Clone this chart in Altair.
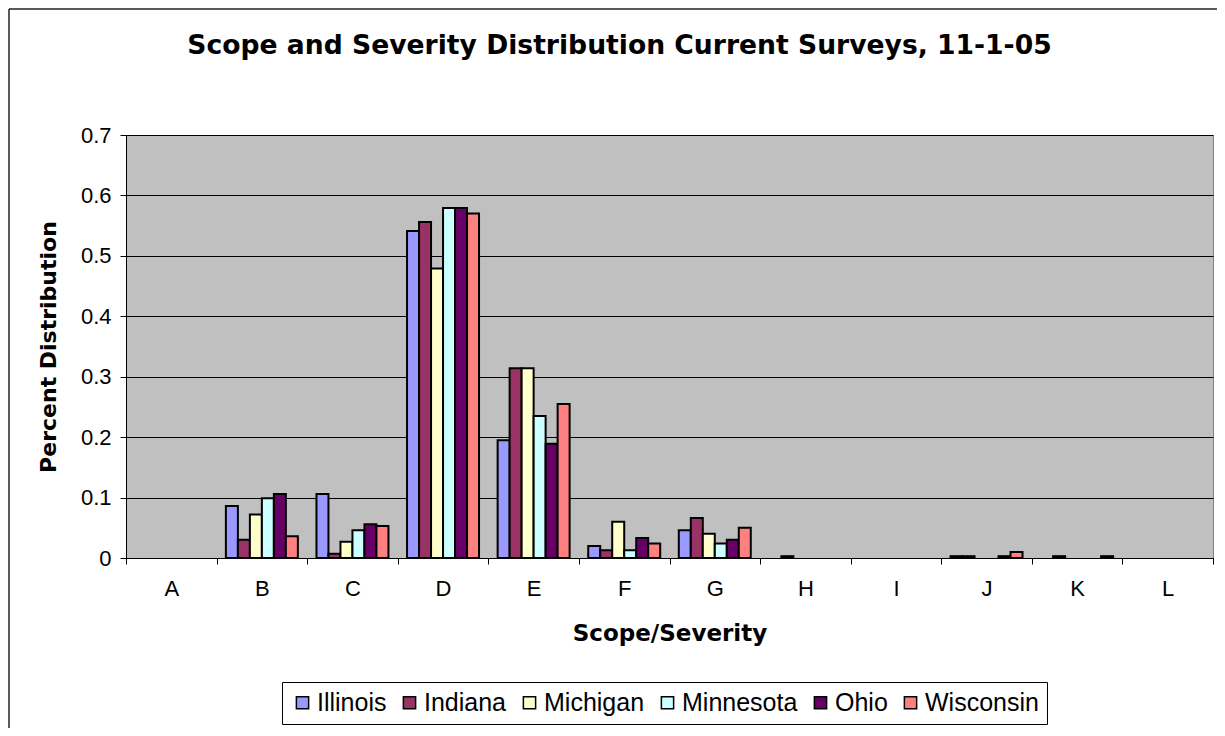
import altair as alt
import pandas as pd

categories = list("ABCDEFGHIJKL")
states = ["Illinois", "Indiana", "Michigan", "Minnesota", "Ohio", "Wisconsin"]
colors = ["#9999FF", "#993366", "#FFFFCC", "#CCFFFF", "#660066", "#FF8080"]

illinois = [0, 0.086, 0.106, 0.541, 0.195, 0.020, 0.046, 0, 0, 0.003, 0, 0]
indiana = [0, 0.030, 0.007, 0.556, 0.314, 0.013, 0.066, 0.003, 0, 0.003, 0.003, 0]
michigan = [0, 0.072, 0.027, 0.479, 0.314, 0.060, 0.040, 0, 0, 0, 0, 0]
minnesota = [0, 0.099, 0.046, 0.579, 0.235, 0.013, 0.024, 0, 0, 0, 0, 0]
ohio = [0, 0.106, 0.056, 0.579, 0.189, 0.033, 0.030, 0, 0, 0.003, 0, 0]
wisconsin = [0, 0.036, 0.053, 0.570, 0.255, 0.024, 0.050, 0, 0, 0.010, 0.003, 0]

y_ticks = [0, 0.1, 0.2, 0.3, 0.4, 0.5, 0.6, 0.7]

rows = []
for s, vals in zip(states, [illinois, indiana, michigan, minnesota, ohio, wisconsin]):
    for c, v in zip(categories, vals):
        rows.append({"cat": c, "state": s, "value": v})
df = pd.DataFrame(rows)

W, H = 1087, 423
FONT = "Liberation Sans"
BOLD_FONT = "DejaVu Sans"

bars = alt.Chart(df).transform_filter("datum.value > 0").mark_bar(
    stroke="black", strokeWidth=2
).encode(
    x=alt.X(
        "cat:N",
        sort=categories,
        scale=alt.Scale(domain=categories, paddingInner=0, paddingOuter=0),
        axis=alt.Axis(
            title="Scope/Severity",
            labelAngle=0,
            tickBand="extent",
            tickSize=6,
            labelPadding=14,
            labelFontSize=22,
            titleFont=BOLD_FONT,
            titleFontSize=23,
            titleFontWeight="bold",
            titleY=82,
            titleBaseline="alphabetic",
            grid=False,
        ),
    ),
    xOffset=alt.XOffset(
        "state:N",
        sort=states,
        scale=alt.Scale(domain=states, paddingInner=0, paddingOuter=0.775),
    ),
    y=alt.Y(
        "value:Q",
        scale=alt.Scale(domain=[0, 0.7], nice=False, zero=True),
        axis=alt.Axis(
            title="Percent Distribution",
            values=y_ticks,
            labelExpr="datum.value == 0 ? '0' : format(datum.value, '.1f')",
            tickSize=6,
            labelPadding=9,
            labelFontSize=22,
            titleFont=BOLD_FONT,
            titleFontSize=22,
            titleFontWeight="bold",
            titleX=-78,
            titleY=H / 2,
            titleAngle=270,
            titleAlign="center",
            titleBaseline="middle",
            grid=True,
            gridColor="black",
            gridWidth=1,
        ),
    ),
    color=alt.Color(
        "state:N",
        sort=states,
        scale=alt.Scale(domain=states, range=colors),
        legend=alt.Legend(
            title=None,
            orient="none",
            legendX=156,
            legendY=547,
            direction="horizontal",
            labelFont=FONT,
            labelFontSize=25,
            labelColor="black",
            symbolType="square",
            symbolSize=150,
            symbolStrokeColor="black",
            symbolStrokeWidth=1.5,
            symbolOpacity=1,
            labelOffset=2,
            columnPadding=10,
            padding=8,
            strokeColor="black",
            fillColor="white",
        ),
    ),
)

frame_df = pd.DataFrame({"k": [0]})
frame_top = alt.Chart(frame_df).mark_rule(color="#222222", strokeWidth=1.5).encode(
    x=alt.value(-117), x2=alt.value(1400), y=alt.value(-126)
)
frame_left = alt.Chart(frame_df).mark_rule(color="#222222", strokeWidth=1.5).encode(
    x=alt.value(-117), y=alt.value(-126), y2=alt.value(900)
)

chart = alt.layer(frame_top, frame_left, bars).properties(
    width=W,
    height=H,
    autosize="none",
    background="white",
    padding={"left": 118, "top": 127, "right": 4, "bottom": 170},
    title=alt.TitleParams(
        text="Scope and Severity Distribution Current Surveys, 11-1-05",
        font=BOLD_FONT,
        fontSize=26.6,
        fontWeight="bold",
        color="black",
        anchor="middle",
        frame="group",
        dx=-50,
        offset=-72,
        baseline="alphabetic",
    ),
).configure_view(
    fill="#C0C0C0", stroke="#808080", strokeWidth=1
).configure_axis(
    labelFont=FONT,
    titleFont=FONT,
    labelColor="black",
    titleColor="black",
    domainColor="black",
    domainWidth=1,
    tickColor="black",
)

chart.save("out.html", embed_options={"renderer": "svg", "actions": False})
